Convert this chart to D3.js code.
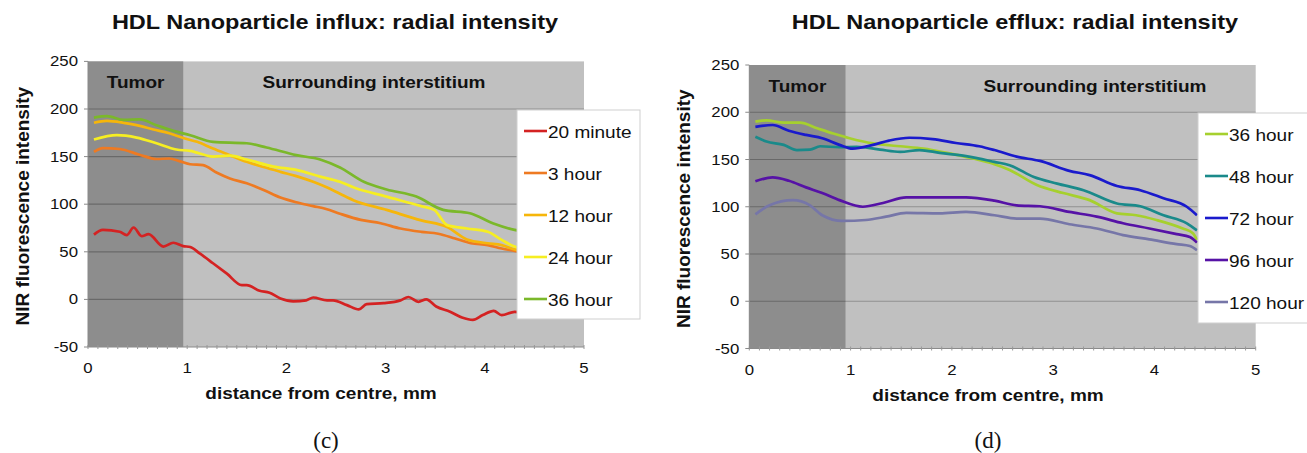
<!doctype html>
<html>
  <head>
    <meta charset="utf-8">
    <title>HDL Nanoparticle radial intensity</title>
    <script src="https://cdnjs.cloudflare.com/ajax/libs/d3/7.8.5/d3.min.js"></script>
    <style>
      body { margin: 0; background: #fff; }
      text { font-family: "Liberation Sans", Arial, sans-serif; }
    </style>
  </head>
  <body>
    <div id="chart"></div>
    <script>
      // data: [distance mm, intensity]
      const influx20min = [[0.06,68],[0.15,73],[0.32,71],[0.39,67.5],[0.46,75.5],[0.54,66.5],[0.61,68.5],[0.76,55.5],[0.86,59.5],[0.96,56],[1.03,55],[1.13,48],[1.26,38],[1.4,27],[1.55,15],[1.6,15],[1.73,9],[1.83,7],[1.94,1],[2.07,-2],[2.2,-1],[2.27,2],[2.41,-1],[2.47,-1],[2.61,-6],[2.73,-10.5],[2.81,-5],[2.98,-4],[3.15,-1],[3.23,2.5],[3.33,-2.5],[3.41,0],[3.51,-7.5],[3.65,-13],[3.77,-19],[3.88,-21.5],[3.98,-16.5],[4.09,-12],[4.17,-16.5],[4.3,-13],[4.4,-14]];
      const influx3h = [[0.06,155],[0.15,159],[0.32,158],[0.52,152],[0.69,147.5],[0.82,148],[0.93,145],[1.03,142],[1.16,141],[1.3,133],[1.43,127],[1.6,122],[1.77,115],[1.94,107],[2.1,102],[2.27,98],[2.4,95],[2.54,90],[2.75,83.5],[2.95,80],[3.15,74.5],[3.36,71],[3.53,69],[3.7,64],[3.86,59],[4.03,57],[4.17,53.5],[4.3,51],[4.4,49]];
      const influx12h = [[0.06,185.5],[0.19,187.5],[0.36,185.5],[0.49,183],[0.66,178.5],[0.82,174.5],[0.96,169.5],[1.1,165.5],[1.26,158.5],[1.43,151.5],[1.6,144.5],[1.77,139],[1.94,134],[2.1,129.5],[2.27,123.5],[2.4,118],[2.54,111],[2.68,104],[3.01,94],[3.36,83],[3.62,76],[3.82,63],[4.03,59],[4.17,57],[4.3,52.5],[4.4,50]];
      const influx24h = [[0.06,168],[0.29,172.5],[0.49,170],[0.69,164],[0.89,157.5],[1.03,156],[1.26,150],[1.43,151],[1.6,147],[1.87,139.5],[2.1,136],[2.34,129],[2.54,123.5],[2.68,117.5],[3.01,108],[3.36,98],[3.49,94],[3.62,78],[3.82,74.5],[4.03,71],[4.17,62.5],[4.3,55.5],[4.4,53]];
      const influx36h = [[0.06,191],[0.19,192.5],[0.36,188.5],[0.52,189],[0.69,183],[0.86,177],[1.03,172.5],[1.26,165.5],[1.6,164],[1.8,159.5],[2.1,151.5],[2.34,147],[2.54,138.5],[2.78,123.5],[3.01,115.5],[3.31,108],[3.58,94],[3.85,90.5],[4.08,80],[4.3,73],[4.4,71]];

      const efflux36h = [[0.06,190],[0.17,191.5],[0.34,189],[0.5,189],[0.67,183],[0.83,177.5],[0.99,172.5],[1.22,167],[1.49,164],[1.72,161.5],[1.95,157],[2.21,151],[2.42,145],[2.57,139],[2.84,123],[3.1,114.5],[3.36,107],[3.63,93],[3.82,91],[4.02,86],[4.28,77],[4.38,72],[4.42,65]];
      const efflux48h = [[0.06,174],[0.17,169],[0.34,165.5],[0.47,160],[0.6,160.5],[0.7,164],[0.89,163],[1.06,163.5],[1.29,160.5],[1.49,158],[1.68,160],[1.88,157],[2.14,153.5],[2.42,147.5],[2.57,144],[2.81,131.5],[3.04,124.5],[3.3,117.5],[3.63,103.5],[3.86,100.5],[4.09,91],[4.32,82.5],[4.42,75]];
      const efflux72h = [[0.06,184.5],[0.23,186.5],[0.39,180.5],[0.56,176],[0.72,172.5],[0.89,165.5],[1.02,161.5],[1.22,165.5],[1.38,170],[1.58,173],[1.81,171.5],[2.04,167.5],[2.27,164],[2.42,160],[2.64,153],[2.87,148.5],[3.16,138],[3.36,133.5],[3.63,122],[3.86,117.5],[4.09,109],[4.32,100],[4.42,91]];
      const efflux96h = [[0.06,127],[0.23,131],[0.39,127.5],[0.56,120.5],[0.72,114.5],[0.89,107],[1.12,100],[1.32,104],[1.55,110],[1.81,110],[2.14,110],[2.42,106.5],[2.64,101.5],[2.87,100.5],[3.16,94.5],[3.43,89.5],[3.69,82.5],[3.95,77],[4.22,71],[4.35,68],[4.42,62]];
      const efflux120h = [[0.06,92],[0.2,101.5],[0.43,107],[0.6,101.5],[0.72,91],[0.92,85],[1.15,86],[1.35,89.5],[1.55,93.5],[1.88,93],[2.14,94.5],[2.42,91],[2.64,87.5],[2.87,87.5],[3.16,81.5],[3.43,77],[3.69,70],[3.95,65.5],[4.22,60.5],[4.35,58.5],[4.42,54]];

      const influxLabels = ['20 minute', '3 hour', '12 hour', '24 hour', '36 hour'];
      const effluxLabels = ['36 hour', '48 hour', '72 hour', '96 hour', '120 hour'];
      const yTicks = [-50, 0, 50, 100, 150, 200, 250];
      const xTicks = [0, 1, 2, 3, 4, 5];

      const svg = d3.select('#chart').append('svg')
        .attr('width', 1307)
        .attr('height', 453);

      // the picture is a bit wider than tall, so stretch horizontal text
      const sx = 1.12;

      function hText(g, x, y, str, size, bold, anchor) {
        return g.append('text')
          .attr('transform', `translate(${x},${y}) scale(${sx},1)`)
          .attr('text-anchor', anchor || 'middle')
          .style('font-size', size + 'px')
          .style('font-weight', bold ? 'bold' : 'normal')
          .style('fill', '#111')
          .text(str);
      }

      function panel(opt) {
        const g = svg.append('g');
        const x = d3.scaleLinear().domain([0, 5]).range([opt.left, opt.right]);
        const y = d3.scaleLinear().domain([-50, 250]).range([opt.bottom, opt.top]);

        // backgrounds
        g.append('rect')
          .attr('x', x(0)).attr('y', y(250))
          .attr('width', x(5) - x(0)).attr('height', y(-50) - y(250))
          .attr('fill', '#c0c0c0');
        g.append('rect')
          .attr('x', x(0)).attr('y', y(250))
          .attr('width', x(opt.tumor) - x(0)).attr('height', y(-50) - y(250))
          .attr('fill', '#8d8d8d');

        // grid
        g.selectAll('.grid').data(yTicks.slice(1, -1)).join('line')
          .attr('x1', x(0)).attr('x2', x(5))
          .attr('y1', d => y(d)).attr('y2', d => y(d))
          .attr('stroke', 'rgba(0,0,0,0.25)')
          .attr('stroke-width', 1.2);

        hText(g, (x(0) + x(opt.tumor)) / 2, y(250) + 27, 'Tumor', 17, true);
        hText(g, opt.regionX, y(250) + 27, 'Surrounding interstitium', 17, true);

        // lines
        const line = d3.line()
          .x(d => x(d[0]))
          .y(d => y(d[1]))
          .curve(d3.curveMonotoneX);
        g.selectAll('.series').data(opt.series).join('path')
          .attr('d', d => line(d))
          .attr('fill', 'none')
          .attr('stroke', (d, i) => opt.colors[i])
          .attr('stroke-width', 2.7)
          .attr('stroke-linejoin', 'round');

        // axes
        const minor = d3.range(0, 5.001, 0.1);
        g.append('line')
          .attr('x1', x(0)).attr('x2', x(5))
          .attr('y1', y(-50)).attr('y2', y(-50))
          .attr('stroke', '#8a8a8a');
        g.selectAll('.mtick').data(minor).join('line')
          .attr('x1', d => x(d)).attr('x2', d => x(d))
          .attr('y1', y(-50) - 2).attr('y2', y(-50) + 2)
          .attr('stroke', '#999');
        g.append('line')
          .attr('x1', x(0)).attr('x2', x(0))
          .attr('y1', y(-50)).attr('y2', y(250))
          .attr('stroke', '#8a8a8a');
        g.selectAll('.ytick').data(yTicks).join('line')
          .attr('x1', x(0) - 4).attr('x2', x(0))
          .attr('y1', d => y(d)).attr('y2', d => y(d))
          .attr('stroke', '#8a8a8a');

        yTicks.forEach(t => hText(g, x(0) - 10, y(t) + 5, t, 15, false, 'end'));
        xTicks.forEach(t => hText(g, x(t), y(-50) + 26, t, 15, false));

        hText(g, opt.xTitleX, y(-50) + 52, 'distance from centre, mm', 17, true);
        g.append('text')
          .attr('transform', `translate(${opt.yTitleX},${(y(-50) + y(250)) / 2 + 2}) rotate(-90)`)
          .attr('text-anchor', 'middle')
          .style('font-size', '19px')
          .style('font-weight', 'bold')
          .style('fill', '#111')
          .text('NIR fluorescence intensity');

        hText(g, opt.titleX, 29, opt.title, 21, true);

        // legend
        const lg = g.append('g');
        lg.append('rect')
          .attr('x', opt.legend[0]).attr('y', opt.legend[1])
          .attr('width', opt.legend[2]).attr('height', opt.legend[3])
          .attr('fill', '#fff')
          .attr('stroke', '#cfcfcf');
        opt.labels.forEach((lab, i) => {
          const ly = opt.legend[1] + 21 + i * 42;
          lg.append('line')
            .attr('x1', opt.legend[0] + 7).attr('x2', opt.legend[0] + 30)
            .attr('y1', ly).attr('y2', ly)
            .attr('stroke', opt.colors[i])
            .attr('stroke-width', 2.6);
          hText(lg, opt.legend[0] + 31, ly + 6.5, lab, 17, false, 'start');
        });

        // caption
        svg.append('text')
          .attr('x', opt.capX).attr('y', 448)
          .attr('text-anchor', 'middle')
          .style('font-family', '"Liberation Serif", "DejaVu Serif", serif')
          .style('font-size', '23px')
          .style('fill', '#111')
          .text(opt.caption);
      }

      panel({
        left: 88, right: 584, top: 61.4, bottom: 347, tumor: 0.96,
        regionX: 374, titleX: 335, yTitleX: 29, xTitleX: 321,
        title: 'HDL Nanoparticle influx: radial intensity',
        series: [influx20min, influx3h, influx12h, influx24h, influx36h],
        colors: ['#d42222', '#ee7a22', '#f6b60a', '#f6ee22', '#7bb82a'],
        labels: influxLabels,
        legend: [517, 110, 123, 209],
        capX: 326, caption: '(c)'
      });

      panel({
        left: 749.3, right: 1255.7, top: 65, bottom: 348.5, tumor: 0.95,
        regionX: 1095, titleX: 1015, yTitleX: 690, xTitleX: 988,
        title: 'HDL Nanoparticle efflux: radial intensity',
        series: [efflux36h, efflux48h, efflux72h, efflux96h, efflux120h],
        colors: ['#a6d02e', '#1a8a8a', '#1a1acc', '#5612a6', '#7676a8'],
        labels: effluxLabels,
        legend: [1198, 113, 120, 210],
        capX: 988, caption: '(d)'
      });
    </script>
  </body>
</html>
